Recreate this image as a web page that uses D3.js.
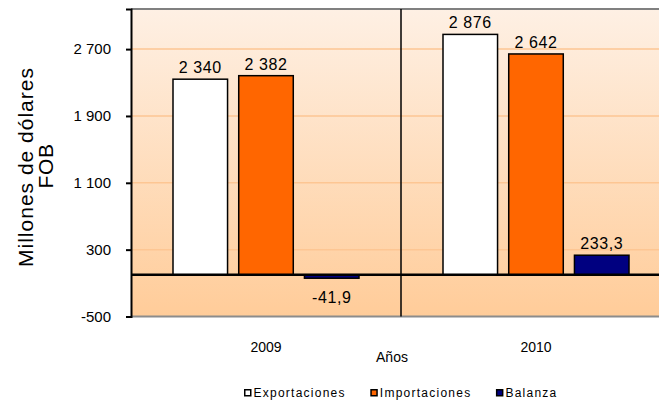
<!DOCTYPE html>
<html>
<head>
<meta charset="utf-8">
<script src="https://cdn.jsdelivr.net/npm/d3@7"></script>
<style>
  html, body { margin: 0; padding: 0; background: #ffffff; }
  svg { display: block; font-family: Arial, "Liberation Sans", sans-serif; }
</style>
</head>
<body>
<svg id="chart" width="659" height="402"></svg>
<script>
// ---- data ----
const categories = ["2009", "2010"];
const seriesNames = ["Exportaciones", "Importaciones", "Balanza"];
const exportaciones = [2340, 2876];
const importaciones = [2382, 2642];
const balanza = [-41.9, 233.3];
const seriesLabels = [["2 340", "2 876"], ["2 382", "2 642"], ["-41,9", "233,3"]];
const yTicks = [-500, 300, 1100, 1900, 2700];
const yTickLabels = ["-500", "300", "1 100", "1 900", "2 700"];
const yMin = -500, yMax = 3180;
const seriesColors = ["#ffffff", "#ff6600", "#000080"];
const yTitle = ["Millones de dólares", "FOB"];
const xTitle = "Años";

const seriesValues = [exportaciones, importaciones, balanza];

// ---- layout ----
const svg = d3.select("#chart");
const plotLeft = 131, plotRight = 671, plotTop = 9, plotBottom = 316.5;

const y = d3.scaleLinear().domain([yMin, yMax]).range([plotBottom, plotTop]);
const x0 = d3.scaleBand().domain(categories).range([plotLeft, plotRight]).padding(0);
const x1 = d3.scaleBand().domain(seriesNames).range([42, x0.bandwidth() - 42]).paddingInner(0.17).paddingOuter(0);

// background gradient
const defs = svg.append("defs");
const grad = defs.append("linearGradient").attr("id", "bg").attr("x1", 0).attr("y1", 0).attr("x2", 0).attr("y2", 1);
grad.append("stop").attr("offset", "0%").attr("stop-color", "#fef0e4");
grad.append("stop").attr("offset", "100%").attr("stop-color", "#ffcc99");

svg.append("rect")
  .attr("x", plotLeft).attr("y", plotTop)
  .attr("width", plotRight - plotLeft).attr("height", plotBottom - plotTop)
  .attr("fill", "url(#bg)");

// gridlines
svg.append("g").selectAll("line").data(yTicks.filter(t => t !== yMin)).join("line")
  .attr("x1", plotLeft).attr("x2", plotRight)
  .attr("y1", d => y(d)).attr("y2", d => y(d))
  .attr("stroke", "#fdc693").attr("stroke-width", 1.5);

// top & bottom gray borders
svg.append("line").attr("x1", plotLeft).attr("x2", plotRight).attr("y1", plotTop).attr("y2", plotTop)
  .attr("stroke", "#808080").attr("stroke-width", 2);
svg.append("line").attr("x1", plotLeft).attr("x2", plotRight).attr("y1", plotBottom).attr("y2", plotBottom)
  .attr("stroke", "#8c8c8c").attr("stroke-width", 2);

// category divider
svg.append("line")
  .attr("x1", x0("2010")).attr("x2", x0("2010"))
  .attr("y1", plotTop).attr("y2", plotBottom)
  .attr("stroke", "#000").attr("stroke-width", 1.5);

// bars
const groups = svg.append("g").selectAll("g").data(categories).join("g")
  .attr("transform", d => `translate(${x0(d)},0)`);

groups.selectAll("rect")
  .data((c, ci) => seriesNames.map((s, si) => ({ s, si, v: seriesValues[si][ci], label: seriesLabels[si][ci] })))
  .join("rect")
  .attr("x", d => x1(d.s))
  .attr("width", x1.bandwidth())
  .attr("y", d => y(Math.max(0, d.v)))
  .attr("height", d => Math.abs(y(d.v) - y(0)))
  .attr("fill", d => seriesColors[d.si])
  .attr("stroke", "#000").attr("stroke-width", 1.5);

// data labels
groups.selectAll("text")
  .data((c, ci) => seriesNames.map((s, si) => ({ s, si, v: seriesValues[si][ci], label: seriesLabels[si][ci] })))
  .join("text")
  .attr("x", d => x1(d.s) + x1.bandwidth() / 2)
  .attr("y", d => d.v >= 0 ? y(d.v) - 6 : y(0) + 28)
  .attr("text-anchor", "middle")
  .attr("font-size", "16px")
  .attr("letter-spacing", "0.6px")
  .attr("fill", "#000")
  .text(d => d.label);

// zero line (x axis)
svg.append("line").attr("x1", plotLeft).attr("x2", plotRight).attr("y1", y(0)).attr("y2", y(0))
  .attr("stroke", "#000").attr("stroke-width", 2.5);

// y axis
const yAxis = d3.axisLeft(y).tickValues(yTicks)
  .tickFormat((d, i) => yTickLabels[i]).tickSize(5).tickPadding(15);
const yg = svg.append("g").attr("transform", `translate(${plotLeft},0)`).call(yAxis);
yg.select(".domain").attr("stroke", "#000").attr("stroke-width", 2);
yg.selectAll(".tick line").attr("stroke", "#000").attr("stroke-width", 2);
yg.selectAll(".tick text").attr("font-size", "15px").attr("fill", "#000")
  .attr("font-family", "Arial, 'Liberation Sans', sans-serif");

// category labels
svg.append("g").selectAll("text").data(categories).join("text")
  .attr("x", d => x0(d) + x0.bandwidth() / 2)
  .attr("y", 352)
  .attr("text-anchor", "middle")
  .attr("font-size", "14px")
  .attr("fill", "#000")
  .text(d => d);

// x title
svg.append("text").attr("x", 392).attr("y", 362).attr("text-anchor", "middle")
  .attr("font-size", "14px").attr("fill", "#000").text(xTitle);

// y title
svg.append("g").selectAll("text").data(yTitle).join("text")
  .attr("transform", (d, i) => `translate(${i === 0 ? 33 : 53},${i === 0 ? 167 : 166}) rotate(-90)`)
  .attr("text-anchor", "middle")
  .attr("font-size", "21px")
  .attr("letter-spacing", (d, i) => i === 0 ? "1px" : "0.6px")
  .attr("fill", "#000")
  .text(d => d);

// legend
const legend = svg.append("g");
let lx = 244;
seriesNames.forEach((name, i) => {
  legend.append("rect").attr("x", lx + 0.75).attr("y", 389.75).attr("width", 6).attr("height", 6)
    .attr("fill", seriesColors[i]).attr("stroke", "#000").attr("stroke-width", 1.5);
  const t = legend.append("text").attr("x", lx + 9.5).attr("y", 397)
    .attr("font-size", "12px").attr("letter-spacing", "1.25px").attr("fill", "#000").text(name);
  lx = lx + 9.5 + t.node().getComputedTextLength() + 24.5;
});
</script>
</body>
</html>
